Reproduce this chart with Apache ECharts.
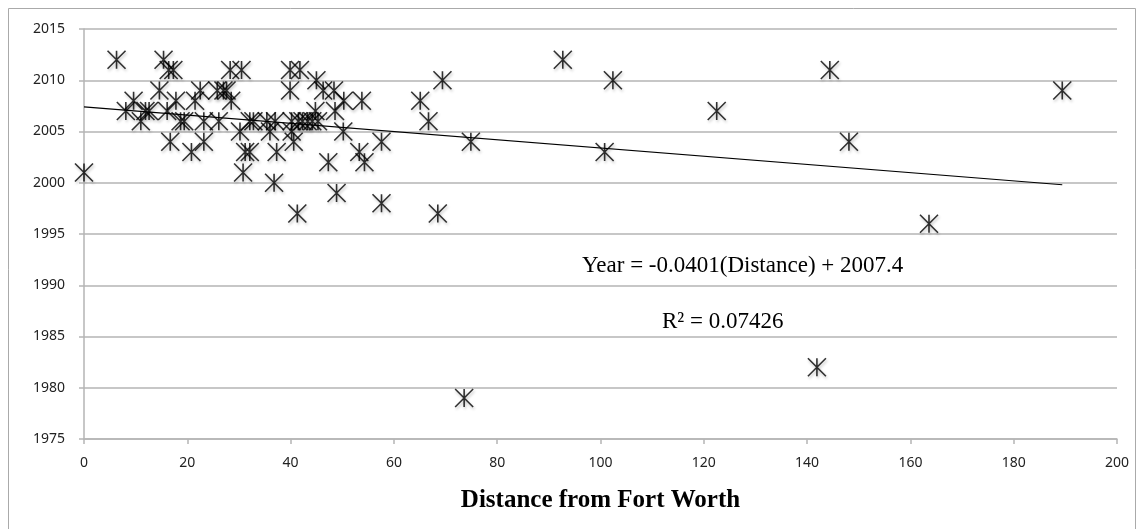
<!DOCTYPE html>
<html>
<head>
<meta charset="utf-8">
<script src="https://cdn.jsdelivr.net/npm/echarts@6/dist/echarts.min.js"></script>
<style>
  html, body { margin: 0; padding: 0; background: #fff; }
  #chart { width: 1144px; height: 529px; }
</style>
</head>
<body>
<div id="chart"></div>
<script>
// Distance (miles) from Fort Worth and year for each site
const distances = [
  0.0, 6.3, 8.1, 9.6, 11.0, 11.9, 12.6, 14.6, 15.4, 16.1,
  16.4, 16.7, 17.3, 17.8, 18.7, 19.4, 20.8, 21.5, 22.5, 23.2,
  23.2, 25.8, 26.1, 27.0, 27.6, 28.3, 28.5, 30.2, 30.5, 30.8,
  31.2, 32.1, 32.1, 32.8, 35.4, 36.0, 36.8, 37.0, 37.3, 39.9,
  39.9, 40.2, 40.2, 40.6, 41.3, 41.5, 41.8, 42.3, 43.3, 44.2,
  44.8, 45.0, 45.3, 46.3, 47.3, 48.4, 48.6, 48.9, 50.2, 50.3,
  53.3, 53.8, 54.3, 57.6, 57.6, 65.1, 66.7, 68.5, 69.4, 73.6,
  74.9, 92.7, 100.8, 102.4, 122.5, 141.9, 144.4, 148.1, 163.6, 189.4
];
const years = [
  2001, 2012, 2007, 2008, 2006, 2007, 2007, 2009, 2012, 2007,
  2011, 2004, 2011, 2008, 2006, 2006, 2003, 2008, 2009, 2006,
  2004, 2009, 2006, 2009, 2009, 2011, 2008, 2005, 2011, 2001,
  2003, 2003, 2006, 2006, 2006, 2005, 2000, 2006, 2003, 2011,
  2009, 2005, 2006, 2004, 1997, 2006, 2011, 2006, 2006, 2006,
  2007, 2010, 2006, 2009, 2002, 2009, 2007, 1999, 2005, 2008,
  2003, 2008, 2002, 2004, 1998, 2008, 2006, 1997, 2010, 1979,
  2004, 2012, 2003, 2010, 2007, 1982, 2011, 2004, 1996, 2009
];

// Linear fit reported for the data
const fitSlope = -0.0401;
const fitIntercept = 2007.4;
const fitR2 = '0.07426';

const xTicks = { min: 0, max: 200, interval: 20 };
const yTicks = { min: 1975, max: 2015, interval: 5 };

const points = distances.map((d, i) => [d, years[i]]);
const dMin = Math.min(...distances);
const dMax = Math.max(...distances);
const fitLine = [
  [dMin, fitIntercept + fitSlope * dMin],
  [dMax, fitIntercept + fitSlope * dMax]
];

const chart = echarts.init(document.getElementById('chart'), null, { renderer: 'canvas' });

const gridColor = '#b5b5b5';
const labelFont = '"Noto Sans", "DejaVu Sans", sans-serif';
const serifFont = '"Liberation Serif", "DejaVu Serif", serif';

chart.setOption({
  animation: false,
  backgroundColor: '#ffffff',
  grid: { left: 84, right: 27, top: 29, bottom: 90, containLabel: false },
  xAxis: {
    type: 'value',
    min: xTicks.min, max: xTicks.max, interval: xTicks.interval,
    name: 'Distance from Fort Worth',
    nameLocation: 'middle',
    nameGap: 49,
    nameTextStyle: { fontFamily: serifFont, fontWeight: 'bold', fontSize: 25, color: '#000' },
    axisLine: { show: true, lineStyle: { color: gridColor, width: 1.5 } },
    axisTick: { show: true, length: 5, lineStyle: { color: gridColor, width: 1.5 } },
    axisLabel: { margin: 17, fontFamily: labelFont, fontSize: 14, color: '#222',
                 formatter: v => String(v) },
    splitLine: { show: false }
  },
  yAxis: {
    type: 'value',
    min: yTicks.min, max: yTicks.max, interval: yTicks.interval,
    axisLine: { show: true, lineStyle: { color: gridColor, width: 1.5 } },
    axisTick: { show: true, length: 5, lineStyle: { color: gridColor, width: 1.5 } },
    axisLabel: { margin: 19, fontFamily: labelFont, fontSize: 14, color: '#222',
                 formatter: v => String(v) },
    splitLine: { show: true, lineStyle: { color: gridColor, width: 1.5 } }
  },
  series: [
    {
      type: 'scatter',
      data: points,
      symbol: 'path://M0,0L20,20M20,0L0,20M10,0L10,20',
      symbolSize: [18, 18],
      itemStyle: {
        color: '#000',
        borderColor: '#000',
        borderWidth: 1.6,
        shadowBlur: 3,
        shadowColor: 'rgba(0,0,0,0.3)',
        shadowOffsetX: 1,
        shadowOffsetY: 2
      },
      z: 3
    },
    {
      type: 'line',
      data: fitLine,
      symbol: 'none',
      lineStyle: { color: '#000', width: 1.2 },
      z: 4,
      silent: true
    }
  ],
  graphic: [
    {
      type: 'rect',
      shape: { x: 8.5, y: 8.5, width: 1127, height: 540 },
      style: { fill: 'none', stroke: '#aaaaaa', lineWidth: 1 },
      silent: true
    },
    {
      type: 'text',
      left: 582, top: 254,
      style: {
        text: 'Year = ' + fitSlope + '(Distance) + ' + fitIntercept,
        font: 'normal 23px ' + serifFont,
        fill: '#000'
      }
    },
    {
      type: 'text',
      left: 662, top: 310,
      style: {
        text: 'R² = ' + fitR2,
        font: 'normal 23px ' + serifFont,
        fill: '#000'
      }
    }
  ]
});
</script>
</body>
</html>
